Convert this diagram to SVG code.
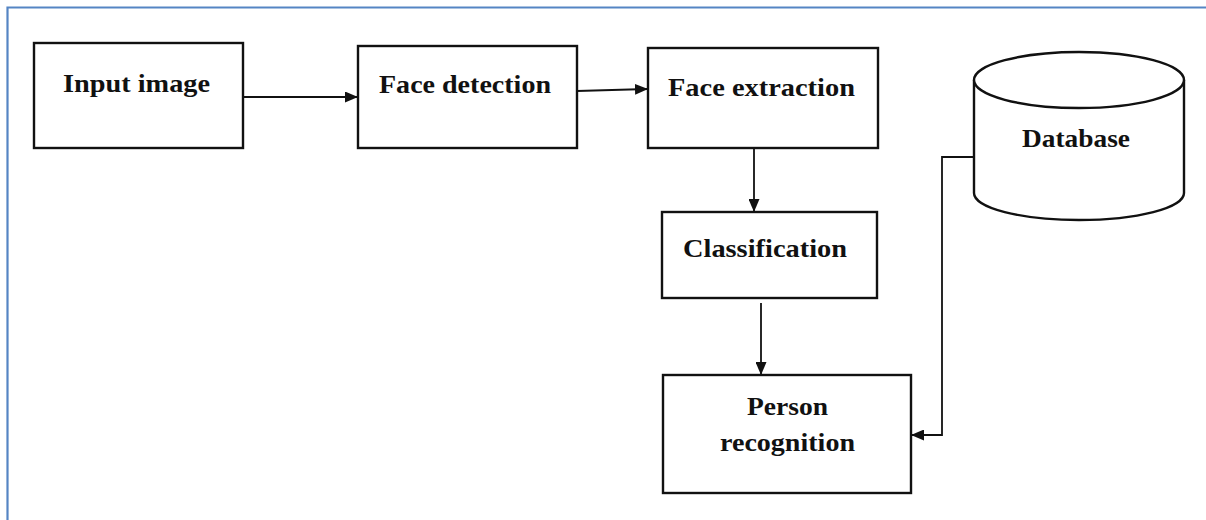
<svg xmlns="http://www.w3.org/2000/svg" width="1206" height="520" viewBox="0 0 1206 520">
<style>
.box{fill:#fff;stroke:#111;stroke-width:2.4}
.lbl{font-family:"Liberation Serif","Times New Roman",serif;font-weight:bold;font-size:26px;fill:#111}
.con{fill:none;stroke:#111;stroke-width:1.8}
</style>
<defs>
<marker id="arr" markerWidth="13" markerHeight="11" refX="12" refY="5.5" orient="auto" markerUnits="userSpaceOnUse">
<path d="M0,0 L13,5.5 L0,11 z" fill="#111"/>
</marker>
</defs>
<rect width="1206" height="520" fill="#fff"/>
<path d="M7.5,520 V7.5 H1206" fill="none" stroke="#5585c4" stroke-width="2.2"/>
<g id="input-image">
<rect class="box" x="34" y="43" width="209" height="105"/>
<text class="lbl" x="63" y="92" textLength="147" lengthAdjust="spacingAndGlyphs">Input image</text>
</g>
<g id="face-detection">
<rect class="box" x="358" y="46" width="219" height="102"/>
<text class="lbl" x="379" y="93" textLength="172" lengthAdjust="spacingAndGlyphs">Face detection</text>
</g>
<g id="face-extraction">
<rect class="box" x="648" y="48" width="230" height="100"/>
<text class="lbl" x="668" y="96" textLength="187" lengthAdjust="spacingAndGlyphs">Face extraction</text>
</g>
<g id="classification">
<rect class="box" x="662" y="212" width="215" height="86"/>
<text class="lbl" x="683" y="257" textLength="164" lengthAdjust="spacingAndGlyphs">Classification</text>
</g>
<g id="person-recognition">
<rect class="box" x="663" y="375" width="248" height="118"/>
<text class="lbl" x="747" y="415" textLength="81" lengthAdjust="spacingAndGlyphs">Person</text>
<text class="lbl" x="720" y="451" textLength="135" lengthAdjust="spacingAndGlyphs">recognition</text>
</g>
<g id="database">
<path class="box" d="M974,80 V193 A105,27 0 0 0 1184,193 V80"/>
<ellipse class="box" cx="1079" cy="80" rx="105" ry="28"/>
<text class="lbl" x="1022" y="147" textLength="108" lengthAdjust="spacingAndGlyphs">Database</text>
</g>
<g id="connectors">
<path class="con" d="M243,97 H357" marker-end="url(#arr)"/>
<path class="con" d="M577,91 L647,89" marker-end="url(#arr)"/>
<path class="con" d="M754,148 V211" marker-end="url(#arr)"/>
<path class="con" d="M761,303 V374" marker-end="url(#arr)"/>
<path class="con" d="M975,157 H942 V435 H912" marker-end="url(#arr)"/>
</g>
</svg>
